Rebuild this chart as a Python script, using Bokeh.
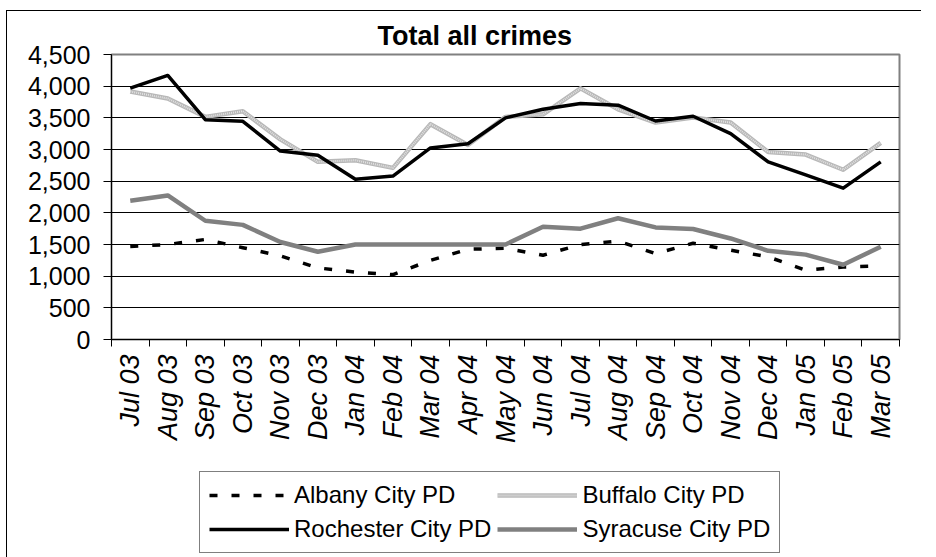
import math
from bokeh.plotting import figure
from bokeh.layouts import column
from bokeh.models import (FixedTicker, NumeralTickFormatter, Legend, LegendItem,
                          Range1d, ColumnDataSource)
from bokeh.embed import file_html
from bokeh.resources import INLINE

months = ["Jul 03", "Aug 03", "Sep 03", "Oct 03", "Nov 03", "Dec 03", "Jan 04",
          "Feb 04", "Mar 04", "Apr 04", "May 04", "Jun 04", "Jul 04", "Aug 04",
          "Sep 04", "Oct 04", "Nov 04", "Dec 04", "Jan 05", "Feb 05", "Mar 05"]
albany = [1470, 1500, 1580, 1450, 1320, 1130, 1065, 1025, 1250, 1425, 1440,
          1330, 1500, 1555, 1355, 1520, 1410, 1305, 1095, 1145, 1160]
buffalo = [3915, 3805, 3515, 3605, 3160, 2805, 2830, 2710, 3400, 3070, 3515,
           3555, 3965, 3635, 3425, 3505, 3425, 2960, 2920, 2680, 3105]
rochester = [3970, 4170, 3470, 3445, 2975, 2910, 2530, 2580, 3025, 3090, 3500,
             3635, 3725, 3700, 3450, 3525, 3250, 2805, 2600, 2390, 2805]
syracuse = [2190, 2275, 1875, 1810, 1540, 1385, 1500, 1500, 1500, 1500, 1500,
            1780, 1750, 1915, 1770, 1745, 1595, 1400, 1340, 1180, 1465]
y_ticks = [0, 500, 1000, 1500, 2000, 2500, 3000, 3500, 4000, 4500]
series_names = ["Albany City PD", "Buffalo City PD", "Rochester City PD",
                "Syracuse City PD"]

n = len(months)
xs = list(range(n))
src = ColumnDataSource(dict(x=xs, albany=albany, buffalo=buffalo,
                            rochester=rochester, syracuse=syracuse))

FONT = "Liberation Sans"


def draw_series(fig):
    r_alb = fig.line("x", "albany", source=src, line_color="black",
                     line_width=3.5, line_dash="8 14")
    r_buf = fig.line("x", "buffalo", source=src, line_color="#b8b8b8",
                     line_width=4.5, line_join="round")
    r_buf2 = fig.line("x", "buffalo", source=src, line_color="#e2e2e2",
                      line_width=2, line_dash="1 1", line_join="round")
    r_roc = fig.line("x", "rochester", source=src, line_color="black",
                     line_width=3.5, line_join="round")
    r_syr = fig.line("x", "syracuse", source=src, line_color="#808080",
                     line_width=4.5, line_join="round")
    return [[r_alb], [r_buf, r_buf2], [r_roc], [r_syr]]


p = figure(frame_width=788, frame_height=285, output_backend="svg",
           toolbar_location=None,
           x_range=Range1d(-0.5, n - 0.5), y_range=Range1d(0, 4500),
           min_border_left=104, min_border_right=22, min_border_top=43,
           min_border_bottom=123)

p.title.text = "Total all crimes"
p.title.align = "left"
p.title.offset = 266
p.title.text_font = FONT
p.title.text_font_size = "27px"
p.title.text_font_style = "bold"
p.title.text_color = "black"
p.title.standoff = 8

p.outline_line_color = "#808080"
p.outline_line_width = 2
p.background_fill_color = "white"
p.border_fill_color = "white"

p.xgrid.grid_line_color = None
p.ygrid.grid_line_color = "black"
p.ygrid.grid_line_width = 1
p.ygrid.ticker = FixedTicker(ticks=y_ticks)

# y axis
p.yaxis.ticker = FixedTicker(ticks=y_ticks)
p.yaxis.formatter = NumeralTickFormatter(format="0,0")
p.yaxis.major_tick_out = 8
p.yaxis.major_tick_in = 0
p.yaxis.minor_tick_out = 0
p.yaxis.minor_tick_in = 0
p.yaxis.major_label_standoff = 13
p.yaxis.major_label_text_font = FONT
p.yaxis.major_label_text_font_size = "25px"
p.yaxis.major_label_text_color = "black"
p.yaxis.axis_line_color = "black"
p.yaxis.major_tick_line_color = "black"

# x axis: labels at centres, ticks at boundaries
p.xaxis.ticker = FixedTicker(ticks=xs, minor_ticks=[i - 0.5 for i in range(n + 1)])
p.xaxis.major_label_overrides = {i: m for i, m in enumerate(months)}
p.xaxis.major_tick_out = 0
p.xaxis.major_tick_in = 0
p.xaxis.minor_tick_out = 7
p.xaxis.minor_tick_in = 0
p.xaxis.minor_tick_line_color = "black"
p.xaxis.major_label_orientation = math.pi / 2
p.xaxis.major_label_standoff = 8
p.xaxis.major_label_text_font = FONT
p.xaxis.major_label_text_font_size = "27px"
p.xaxis.major_label_text_font_style = "italic"
p.xaxis.major_label_text_color = "black"
p.xaxis.axis_line_color = "black"

draw_series(p)

# legend strip below the chart (series drawn out of view, only the key shows)
p2 = figure(width=914, height=95, output_backend="svg", toolbar_location=None,
            x_range=Range1d(-0.5, n - 0.5), y_range=Range1d(-20, -10),
            x_axis_location=None, y_axis_location=None,
            min_border_left=0, min_border_right=0, min_border_top=0,
            min_border_bottom=0, title=None)
p2.grid.visible = False
p2.outline_line_color = None
p2.background_fill_color = "white"
p2.border_fill_color = "white"
rends = draw_series(p2)

legend = Legend(items=[LegendItem(label=nm, renderers=r)
                       for nm, r in zip(series_names, rends)],
                orientation="horizontal", ncols=2)
legend.label_text_font = FONT
legend.label_text_font_size = "24px"
legend.label_text_color = "black"
legend.glyph_width = 80
legend.glyph_height = 26
legend.label_height = 26
legend.label_standoff = 5
legend.spacing = 6
legend.padding = 9
legend.margin = 0
legend.border_line_color = "black"
legend.border_line_width = 1
legend.background_fill_alpha = 1
legend.location = (88, 4)
p2.add_layout(legend, "center")

layout = column(p, p2, spacing=0)
layout.styles = {"border-top": "1px solid black", "border-left": "1px solid black",
                 "margin-left": "6px", "margin-top": "10px"}

open("out.html", "w").write(file_html(layout, INLINE))
